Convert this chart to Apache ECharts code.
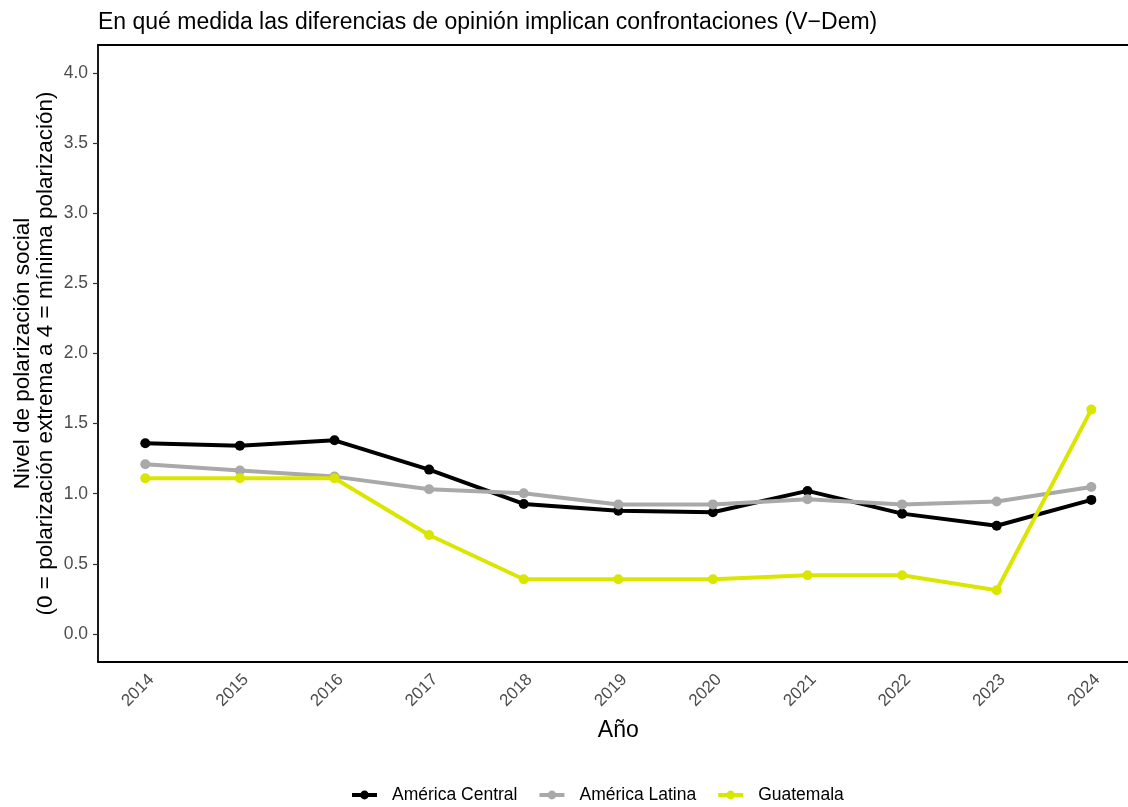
<!DOCTYPE html>
<html><head><meta charset="utf-8">
<script src="https://cdn.jsdelivr.net/npm/echarts@6/dist/echarts.min.js"></script>
<style>html,body{margin:0;padding:0;background:#fff}#c{width:1128px;height:807px}</style>
</head><body><div id="c"></div>
<script>
const years = ['2014','2015','2016','2017','2018','2019','2020','2021','2022','2023','2024'];
const americaCentral = [1.360,1.343,1.381,1.172,0.927,0.879,0.868,1.020,0.858,0.772,0.956];
const americaLatina = [1.210,1.165,1.122,1.032,1.004,0.923,0.924,0.961,0.924,0.944,1.048];
const guatemala = [1.111,1.111,1.111,0.706,0.390,0.390,0.390,0.419,0.419,0.312,1.600];
const yTicks = [0,0.5,1,1.5,2,2.5,3,3.5,4];

const font = 'Liberation Sans, Arial, Helvetica, sans-serif';
const chart = echarts.init(document.getElementById('c'));
function mk(name, data, color){
  return {name, type:'line', data, color, symbol:'circle', symbolSize:10,
    lineStyle:{width:4,color}, itemStyle:{color}, emphasis:{disabled:true}};
}
chart.setOption({
  animation:false,
  textStyle:{fontFamily:font},
  title:{text:'En qué medida las diferencias de opinión implican confrontaciones (V\u2212Dem)',
    left:98, top:11, padding:0, textStyle:{fontSize:23, fontWeight:'normal', color:'#000', fontFamily:font}},
  legend:{top:786, left:350, padding:0, itemWidth:25, itemHeight:11, itemGap:20,
    lineStyle:{width:4},
    textStyle:{fontSize:17.5,color:'#000',fontFamily:font, padding:[0,0,0,10]},
    data:['América Central','América Latina','Guatemala']},
  grid:{left:98, top:45, width:1040.6, height:617, containLabel:false, outerBoundsMode:'none'},
  xAxis:[{type:'category', data:years, boundaryGap:true,
    axisLine:{onZero:false, lineStyle:{color:'#000',width:1.8}},
    axisTick:{alignWithLabel:true, length:6, lineStyle:{color:'#333',width:1.2}},
    axisLabel:{rotate:45, fontSize:17, color:'#4d4d4d', margin:9, verticalAlign:'top', fontFamily:font},
    name:'Año', nameLocation:'middle', nameGap:57,
    nameTextStyle:{fontSize:23,color:'#000',fontFamily:font}},
    {type:'category', data:years, position:'top', axisLine:{onZero:false, lineStyle:{color:'#000',width:1.8}},
     axisTick:{show:false}, axisLabel:{show:false}}],
  yAxis:{type:'value', min:-0.2, max:4.2,
    axisLine:{show:true, onZero:false, lineStyle:{color:'#000',width:1.8}},
    splitLine:{show:false},
    axisTick:{show:true, length:5, customValues:yTicks, lineStyle:{color:'#333',width:1.2}},
    axisLabel:{customValues:yTicks, fontSize:17.5, color:'#4d4d4d', margin:10, fontFamily:font,
      formatter:v=>v.toFixed(1)},
    name:'Nivel de polarización social\n(0 = polarización extrema a 4 = mínima polarización)',
    nameLocation:'middle', nameRotate:90, nameGap:41, nameMoveOverlap:false,
    nameTextStyle:{fontSize:22.5, color:'#000', lineHeight:23, fontFamily:font}},
  series:[mk('América Central',americaCentral,'#000000'),
          mk('América Latina',americaLatina,'#a9a9a9'),
          mk('Guatemala',guatemala,'#dbe600')]
});
</script></body></html>
